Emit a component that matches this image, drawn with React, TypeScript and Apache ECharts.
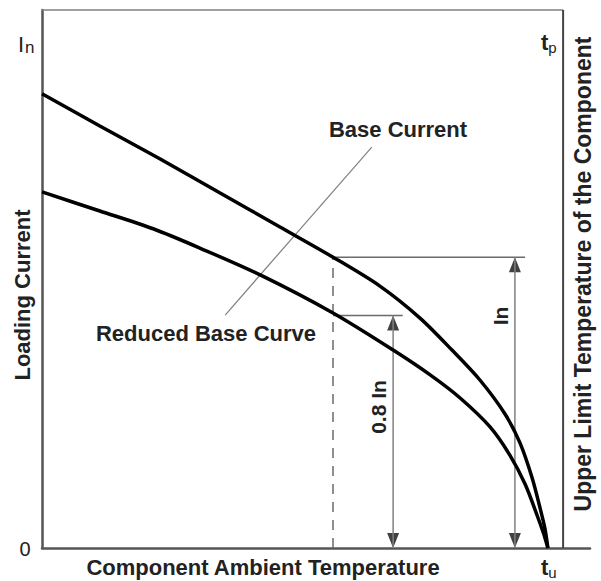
import React, { useEffect, useRef } from "react";
import * as echarts from "echarts";

// Curve readings (x: ambient temperature units, y: loading current units)
const baseTemp = [0, 11.4, 23.3, 35.1, 46.9, 57.35, 66.6, 74.5, 80.8, 86.3, 91.25, 94.2, 96.6, 98.15, 99.1, 99.7];
const baseCurrent = [89.5, 83.15, 76.65, 69.95, 63.25, 57.3, 51.6, 45.3, 39.0, 33.1, 26.4, 20.7, 13.8, 7.9, 3.9, 0];
const reducedTemp = [0, 11.4, 21.9, 31.1, 43.0, 57.35, 69.2, 76.5, 82.4, 88.3, 92.2, 95.2, 97.55, 98.95, 99.7];
const reducedCurrent = [70.15, 66.4, 62.9, 59.1, 53.8, 46.3, 39.0, 34.1, 29.55, 23.85, 18.3, 12.6, 6.5, 2.55, 0];

// Reference markers
const ratedTemp = [57.35];
const ratedCurrent = [57.3];
const reducedLevel = [45.8];
const inArrowTemp = [93.2];
const inLineEnd = [95.2];
const reducedArrowTemp = [69.2];
const reducedLineEnd = [71.1];
const leaderLine = [
  [65.0, 79.0],
  [36.1, 45.9],
];
const axisMaxX = [108];
const axisMaxY = [106];
const rightAxisX = [102.7];

const FONT = "'Liberation Sans', Arial, Helvetica, sans-serif";

export default function App() {
  const ref = useRef<HTMLDivElement>(null);
  useEffect(() => {
    if (!ref.current) return;
    const chart = echarts.init(ref.current, null, { renderer: "svg" });
    const gray = "#6a6a6a";
    const lightGray = "#808080";
    const arrowHead = (x: number, y: number, up: boolean) => ({
      value: [x, y],
      symbolRotate: up ? 0 : 180,
      symbolOffset: [0, up ? 7.5 : -7.5],
    });
    const textStyle = (extra: any) => ({
      fill: "#222",
      font: `bold 22px ${FONT}`,
      textAlign: "center",
      textVerticalAlign: "middle",
      ...extra,
    });
    chart.setOption({
      animation: false,
      grid: { left: 42, top: 10, right: 11, bottom: 33 },
      xAxis: {
        type: "value",
        min: 0,
        max: axisMaxX[0],
        axisLine: { show: true, onZero: false, lineStyle: { color: "#555", width: 2.5 } },
        axisTick: { show: false },
        axisLabel: { show: false },
        splitLine: { show: false },
      },
      yAxis: {
        type: "value",
        min: 0,
        max: axisMaxY[0],
        axisLine: { show: true, onZero: false, lineStyle: { color: "#555", width: 2.5 } },
        axisTick: { show: false },
        axisLabel: { show: false },
        splitLine: { show: false },
      },
      series: [
        {
          type: "line",
          name: "frame-top",
          data: [
            [0, axisMaxY[0]],
            [rightAxisX[0], axisMaxY[0]],
          ],
          symbol: "none",
          clip: false,
          lineStyle: { color: lightGray, width: 1.5 },
        },
        {
          type: "line",
          name: "frame-right",
          data: [
            [rightAxisX[0], 0],
            [rightAxisX[0], axisMaxY[0]],
          ],
          symbol: "none",
          clip: false,
          lineStyle: { color: "#444", width: 2 },
        },
        {
          type: "line",
          name: "dashed",
          data: [
            [ratedTemp[0], 0],
            [ratedTemp[0], ratedCurrent[0]],
          ],
          symbol: "none",
          lineStyle: { color: gray, width: 1.5, type: [10, 8] },
        },
        {
          type: "line",
          name: "In-level",
          data: [
            [ratedTemp[0], ratedCurrent[0]],
            [inLineEnd[0], ratedCurrent[0]],
          ],
          symbol: "none",
          lineStyle: { color: gray, width: 1.5 },
        },
        {
          type: "line",
          name: "reduced-level",
          data: [
            [ratedTemp[0], reducedLevel[0]],
            [reducedLineEnd[0], reducedLevel[0]],
          ],
          symbol: "none",
          lineStyle: { color: gray, width: 1.5 },
        },
        {
          type: "line",
          name: "In-arrow",
          data: [
            [inArrowTemp[0], 0],
            [inArrowTemp[0], ratedCurrent[0]],
          ],
          symbol: "none",
          lineStyle: { color: lightGray, width: 1.5 },
        },
        {
          type: "line",
          name: "reduced-arrow",
          data: [
            [reducedArrowTemp[0], 0],
            [reducedArrowTemp[0], reducedLevel[0]],
          ],
          symbol: "none",
          lineStyle: { color: lightGray, width: 1.5 },
        },
        {
          type: "line",
          name: "leader",
          data: leaderLine,
          symbol: "none",
          lineStyle: { color: lightGray, width: 1.2 },
        },
        {
          type: "scatter",
          name: "arrowheads",
          symbol: "triangle",
          symbolSize: [12, 15],
          itemStyle: { color: "#111" },
          data: [
            arrowHead(inArrowTemp[0], ratedCurrent[0], true),
            arrowHead(inArrowTemp[0], 0, false),
            arrowHead(reducedArrowTemp[0], reducedLevel[0], true),
            arrowHead(reducedArrowTemp[0], 0, false),
          ],
        },
        {
          type: "line",
          name: "Base Current",
          data: baseTemp.map((t, i) => [t, baseCurrent[i]]),
          smooth: 0.3,
          symbol: "none",
          lineStyle: { color: "#000", width: 3.5 },
        },
        {
          type: "line",
          name: "Reduced Base Curve",
          data: reducedTemp.map((t, i) => [t, reducedCurrent[i]]),
          smooth: 0.3,
          symbol: "none",
          lineStyle: { color: "#000", width: 3.5 },
        },
      ],
      graphic: [
        { type: "text", x: 398, y: 129, style: textStyle({ text: "Base Current" }) },
        { type: "text", x: 206, y: 333, style: textStyle({ text: "Reduced Base Curve" }) },
        { type: "text", x: 263, y: 567, style: textStyle({ text: "Component Ambient Temperature" }) },
        { type: "text", x: 22, y: 295, rotation: Math.PI / 2, style: textStyle({ text: "Loading Current" }) },
        {
          type: "text",
          x: 583,
          y: 274,
          rotation: Math.PI / 2,
          style: textStyle({ text: "Upper Limit Temperature of the Component", font: `bold 23px ${FONT}` }),
        },
        { type: "text", x: 500, y: 316, rotation: Math.PI / 2, style: textStyle({ text: "In", font: `bold 21px ${FONT}` }) },
        { type: "text", x: 378, y: 407, rotation: Math.PI / 2, style: textStyle({ text: "0.8 In", font: `bold 21px ${FONT}` }) },
        { type: "text", x: 25, y: 549, style: textStyle({ text: "0", font: `20px ${FONT}` }) },
        {
          type: "text",
          x: 18,
          y: 42,
          style: {
            text: "{a|I}{b|n}",
            textAlign: "left",
            textVerticalAlign: "middle",
            rich: {
              a: { fill: "#222", font: `22px ${FONT}`, verticalAlign: "bottom" },
              b: { fill: "#222", font: `17px ${FONT}`, padding: [10, 0, 0, 1] },
            },
          },
        },
        {
          type: "text",
          x: 541,
          y: 42,
          style: {
            text: "{a|t}{b|p}",
            textAlign: "left",
            textVerticalAlign: "middle",
            rich: {
              a: { fill: "#222", font: `bold 22px ${FONT}` },
              b: { fill: "#222", font: `15px ${FONT}`, padding: [10, 0, 0, 0] },
            },
          },
        },
        {
          type: "text",
          x: 541,
          y: 567,
          style: {
            text: "{a|t}{b|u}",
            textAlign: "left",
            textVerticalAlign: "middle",
            rich: {
              a: { fill: "#222", font: `bold 22px ${FONT}` },
              b: { fill: "#222", font: `15px ${FONT}`, padding: [10, 0, 0, 0] },
            },
          },
        },
      ],
    });
    return () => chart.dispose();
  }, []);
  return (
    <div
      ref={ref}
      style={{ position: "fixed", left: 0, top: 0, width: 601, height: 581, background: "#fff" }}
    />
  );
}
